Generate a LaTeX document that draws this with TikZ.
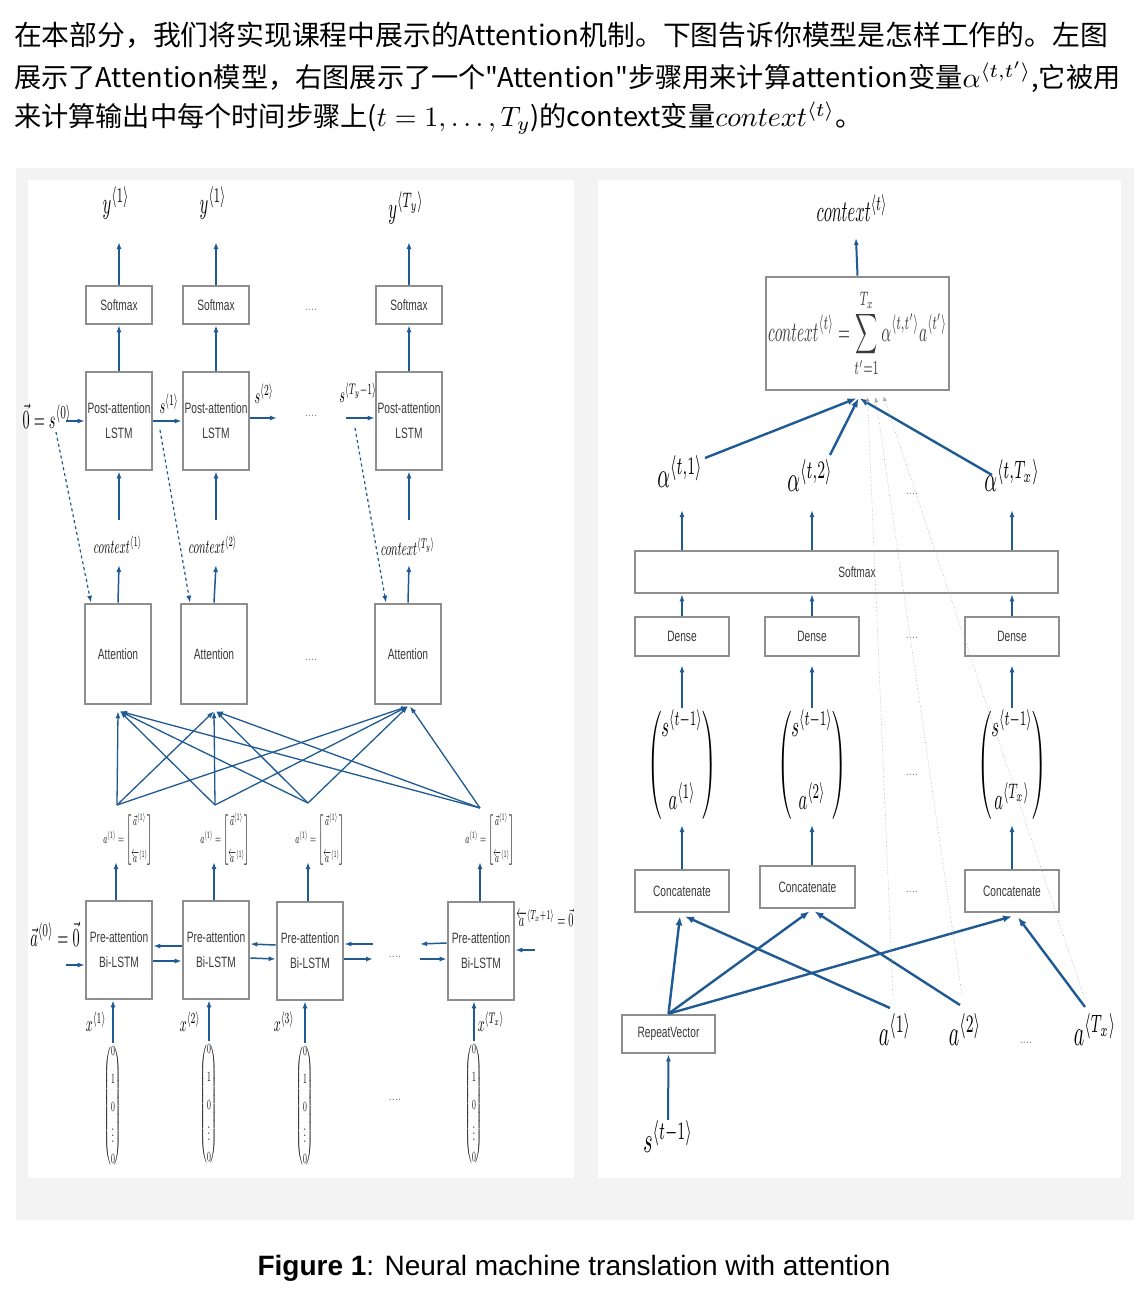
\documentclass[tikz,border=0pt]{standalone}
\usepackage{amsmath}
\usepackage{graphicx}
\usepackage{fontspec}
\setmainfont{Liberation Sans}
\newfontfamily\cjk{Noto Sans CJK SC}
\newfontfamily\boxfont[FakeStretch=0.68]{Liberation Sans}
\usetikzlibrary{arrows.meta,calc,positioning}

\definecolor{arrblue}{HTML}{1F5A92}
\definecolor{boxgray}{HTML}{8E8E8E}
\definecolor{panelgray}{HTML}{F3F3F3}
\definecolor{boxtext}{HTML}{3A3A3A}

% condensed math label, set at 10pt and scaled up to #1
\newcommand{\mathlab}[2]{{\fontsize{10}{12}\selectfont
  \pgfmathsetmacro\mlx{0.055*#1}\pgfmathsetmacro\mly{0.1*#1}%
  \scalebox{\mlx}[\mly]{$#2$}}}
\newcommand{\bigmath}[1]{{\fontsize{10}{12}\selectfont\scalebox{2.8}{$#1$}}}

\tikzset{
  blk/.style={rectangle, draw=boxgray, line width=2.6pt, fill=white, text=boxtext,
    align=center, inner sep=0pt, font=\boxfont\fontsize{15}{17}\selectfont},
  sbox/.style={blk, minimum width=66pt, minimum height=38pt},
  tbox/.style={blk, minimum width=66pt, minimum height=98pt, font=\boxfont\fontsize{15}{25}\selectfont},
  wbox/.style={blk, minimum width=94pt, minimum height=39pt},
  arr/.style={draw=arrblue, line width=1.5pt, -{Latex[length=7pt,width=5pt]}},
  thk/.style={draw=arrblue, line width=2.4pt, -{Latex[length=9pt,width=7pt]}},
  dsh/.style={arr, dashed, line width=1.2pt},
  gline/.style={draw=gray!70, dotted, line width=0.6pt, -{Latex[length=5pt,width=4pt]}},
  lab/.style={inner sep=1pt},
  dots/.style={font=\fontsize{11}{11}\selectfont, text=gray}
}

\begin{document}
\begin{tikzpicture}[x=1pt,y=-1pt]
\useasboundingbox (0,0) rectangle (1138,1294);

% intro text
\node[anchor=west, inner sep=0pt, font=\cjk\fontsize{27.8}{32}\selectfont] (line1) at (14,35)
  {在本部分，我们将实现课程中展示的Attention机制。下图告诉你模型是怎样工作的。左图};
\node[anchor=west, inner sep=0pt, font=\cjk\fontsize{27.2}{32}\selectfont] (line2) at (14,77)
  {展示了Attention模型，右图展示了一个"Attention"步骤用来计算attention变量\bigmath{\alpha^{\langle t,t'\rangle}},它被用};
\node[anchor=west, inner sep=0pt, font=\cjk\fontsize{27.2}{32}\selectfont] (line3) at (14,118)
  {来计算输出中每个时间步骤上(\bigmath{t = 1, \ldots, T_y})的context变量\bigmath{context^{\langle t\rangle}}。};

% panels
\fill[panelgray] (16,168) rectangle (1134,1220);
\fill[white] (28,180) rectangle (574,1178);
\fill[white] (598,180) rectangle (1121,1178);

% ---- left: attention model ----
\node[sbox] (lsm1) at (119,305) {Softmax};
\node[sbox] (lsm2) at (216,305) {Softmax};
\node[sbox] (lsm3) at (409,305) {Softmax};
\node[dots] (ldot1) at (311,310) {....};

\node[lab] (ly1) at (116,203) {\mathlab{30}{y^{\langle 1\rangle}}};
\node[lab] (ly2) at (213,203) {\mathlab{30}{y^{\langle 1\rangle}}};
\node[lab] (ly3) at (406,208) {\mathlab{30}{y^{\langle T_y\rangle}}};
\coordinate (oy1) at (119,242);
\coordinate (oy2) at (216,242);
\coordinate (oy3) at (409,242);
\draw[arr] (lsm1.north) -- (oy1);
\draw[arr] (lsm2.north) -- (oy2);
\draw[arr] (lsm3.north) -- (oy3);

\node[tbox] (post1) at (119,421) {Post-attention\\LSTM};
\node[tbox] (post2) at (216,421) {Post-attention\\LSTM};
\node[tbox] (post3) at (409,421) {Post-attention\\LSTM};
\node[dots] (ldot2) at (311,416) {....};
\draw[arr] (post1.north) -- (lsm1.south);
\draw[arr] (post2.north) -- (lsm2.south);
\draw[arr] (post3.north) -- (lsm3.south);

\node[lab] (s0) at (47,416) {\mathlab{26}{\vec{0}=s^{\langle 0\rangle}}};
\node[lab] (s1) at (169,404) {\mathlab{22}{s^{\langle 1\rangle}}};
\node[lab] (s2) at (264,394) {\mathlab{22}{s^{\langle 2\rangle}}};
\node[lab] (s3) at (358,393) {\mathlab{22}{s^{\langle T_y-1\rangle}}};
\coordinate (ins0) at (66,421);
\coordinate (outs2) at (277,418);
\coordinate (ins3) at (346,418);
\draw[arr] (ins0) -- (post1.west);
\draw[arr] (post1.east) -- (post2.west);
\draw[arr] ([yshift=3pt]post2.east) -- (outs2);
\draw[arr] (ins3) -- ([yshift=3pt]post3.west);

\node[lab] (lc1) at (118,545) {\mathlab{20}{context^{\langle 1\rangle}}};
\node[lab] (lc2) at (213,545) {\mathlab{20}{context^{\langle 2\rangle}}};
\node[lab] (lc3) at (408,547) {\mathlab{20}{context^{\langle T_y\rangle}}};
\coordinate (cb1) at (119,520);
\coordinate (cb2) at (216,520);
\coordinate (cb3) at (409,520);
\coordinate (ca1) at (119,565);
\coordinate (ca2) at (216,565);
\coordinate (ca3) at (409,565);
\draw[arr] (cb1) -- (post1.south);
\draw[arr] (cb2) -- (post2.south);
\draw[arr] (cb3) -- (post3.south);

\node[tbox, minimum height=100pt] (att1) at (118,654) {Attention};
\node[tbox, minimum height=100pt] (att2) at (214,654) {Attention};
\node[tbox, minimum height=100pt] (att3) at (408,654) {Attention};
\node[dots] (ldot3) at (311,660) {....};
\draw[arr] (att1.north) -- (ca1);
\draw[arr] (att2.north) -- (ca2);
\draw[arr] (att3.north) -- (ca3);

% dashed s -> attention
\coordinate (ds1) at (56,432);
\coordinate (ds2) at (160,430);
\coordinate (ds3) at (355,428);
\draw[dsh] (ds1) -- ([xshift=-27pt]att1.north);
\draw[dsh] (ds2) -- ([xshift=-24pt]att2.north);
\draw[dsh] (ds3) -- ([xshift=-22pt]att3.north);

% all a<t'> feed every attention
\coordinate (p1) at (117,805);
\coordinate (p2) at (215,805);
\coordinate (p3) at (308,803);
\coordinate (p4) at (480,808);
\draw[arr, line width=1.3pt] (p1) -- ([yshift=-6pt]att1.south);
\draw[arr, line width=1.3pt] (p1) -- ([yshift=-6pt]att2.south);
\draw[arr, line width=1.3pt] (p1) -- ([yshift=-1pt]att3.south);
\draw[arr, line width=1.3pt] (p2) -- ([xshift=2pt,yshift=-6pt]att1.south);
\draw[arr, line width=1.3pt] (p2) -- ([yshift=-6pt]att2.south);
\draw[arr, line width=1.3pt] (p2) -- ([yshift=-1pt]att3.south);
\draw[arr, line width=1.3pt] (p3) -- ([xshift=2pt,yshift=-6pt]att1.south);
\draw[arr, line width=1.3pt] (p3) -- ([xshift=2pt,yshift=-6pt]att2.south);
\draw[arr, line width=1.3pt] (p3) -- ([yshift=-1pt]att3.south);
\draw[arr, line width=1.3pt] (p4) -- ([xshift=2pt,yshift=-6pt]att1.south);
\draw[arr, line width=1.3pt] (p4) -- ([xshift=2pt,yshift=-6pt]att2.south);
\draw[arr, line width=1.3pt] (p4) -- ([xshift=2pt,yshift=-1pt]att3.south);

\node[lab] (la1) at (128,840) {\mathlab{14}{a^{\langle 1\rangle}=\begin{bmatrix}\vec{a}^{\langle 1\rangle}\\[14pt]\overleftarrow{a}^{\langle 1\rangle}\end{bmatrix}}};
\node[lab] (la2) at (225,840) {\mathlab{14}{a^{\langle 1\rangle}=\begin{bmatrix}\vec{a}^{\langle 1\rangle}\\[14pt]\overleftarrow{a}^{\langle 1\rangle}\end{bmatrix}}};
\node[lab] (la3) at (320,840) {\mathlab{14}{a^{\langle 1\rangle}=\begin{bmatrix}\vec{a}^{\langle 1\rangle}\\[14pt]\overleftarrow{a}^{\langle 1\rangle}\end{bmatrix}}};
\node[lab] (la4) at (490,840) {\mathlab{14}{a^{\langle 1\rangle}=\begin{bmatrix}\vec{a}^{\langle 1\rangle}\\[14pt]\overleftarrow{a}^{\langle 1\rangle}\end{bmatrix}}};

\node[tbox] (pre1) at (119,950) {Pre-attention\\Bi-LSTM};
\node[tbox] (pre2) at (216,950) {Pre-attention\\Bi-LSTM};
\node[tbox] (pre3) at (310,951) {Pre-attention\\Bi-LSTM};
\node[tbox] (pre4) at (481,951) {Pre-attention\\Bi-LSTM};
\node[dots] (ldot4) at (395,957) {....};
\coordinate (q1) at (116,862);
\coordinate (q2) at (214,862);
\coordinate (q3) at (308,862);
\coordinate (q4) at (480,862);
\draw[arr] (pre1.north -| q1) -- (q1);
\draw[arr] (pre2.north -| q2) -- (q2);
\draw[arr] (pre3.north -| q3) -- (q3);
\draw[arr] (pre4.north -| q4) -- (q4);

% forward and backward states
\node[lab] (af0) at (55,934) {\mathlab{26}{\vec{a}^{\langle 0\rangle}=\vec{0}}};
\node[lab] (ab0) at (545,918) {\mathlab{19}{\overleftarrow{a}^{\langle T_x+1\rangle}=\vec{0}}};
\coordinate (inf) at (66,965);
\coordinate (outf3) at (373,959);
\coordinate (inb3) at (373,944);
\coordinate (outb4) at (420,944);
\coordinate (inf4) at (420,959);
\coordinate (inb5) at (535,950);
\draw[arr] (inf) -- ([yshift=-15pt]pre1.west);
\draw[arr] ([yshift=4pt]pre2.west) -- ([yshift=4pt]pre1.east);
\draw[arr] ([yshift=-11pt]pre1.east) -- ([yshift=-11pt]pre2.west);
\draw[arr] ([yshift=6pt]pre3.west) -- ([yshift=6pt]pre2.east);
\draw[arr] ([yshift=-8pt]pre2.east) -- ([yshift=-8pt]pre3.west);
\draw[arr] (inb3) -- ([yshift=7pt]pre3.east);
\draw[arr] ([yshift=-8pt]pre3.east) -- (outf3);
\draw[arr] ([yshift=8pt]pre4.west) -- (outb4);
\draw[arr] (inf4) -- ([yshift=-8pt]pre4.west);
\draw[arr] (inb5) -- ([yshift=1pt]pre4.east);

\node[lab] (lx1) at (96,1022) {\mathlab{22}{x^{\langle 1\rangle}}};
\node[lab] (lx2) at (190,1022) {\mathlab{22}{x^{\langle 2\rangle}}};
\node[lab] (lx3) at (284,1022) {\mathlab{22}{x^{\langle 3\rangle}}};
\node[lab] (lx4) at (491,1022) {\mathlab{22}{x^{\langle T_x\rangle}}};

\node[lab] (oh1) at (113,1106) {\mathlab{14}{\begin{pmatrix}0\\[8pt]1\\[8pt]0\\[3pt]\vdots\\[3pt]0\end{pmatrix}}};
\node[lab] (oh2) at (209,1104) {\mathlab{14}{\begin{pmatrix}0\\[8pt]1\\[8pt]0\\[3pt]\vdots\\[3pt]0\end{pmatrix}}};
\node[lab] (oh3) at (305,1106) {\mathlab{14}{\begin{pmatrix}0\\[8pt]1\\[8pt]0\\[3pt]\vdots\\[3pt]0\end{pmatrix}}};
\node[lab] (oh4) at (474,1104) {\mathlab{14}{\begin{pmatrix}0\\[8pt]1\\[8pt]0\\[3pt]\vdots\\[3pt]0\end{pmatrix}}};
\node[dots] (ldot5) at (395,1100) {....};
\draw[arr] (oh1.north) -- (oh1.north |- pre1.south);
\draw[arr] (oh2.north) -- (oh2.north |- pre2.south);
\draw[arr] (oh3.north) -- (oh3.north |- pre3.south);
\draw[arr] (oh4.north) -- (oh4.north |- pre4.south);

% ---- right: one attention step ----
\node[lab] (rctx) at (852,208) {\mathlab{30}{context^{\langle t\rangle}}};
\coordinate (octx) at (856,238);
\node[blk, minimum width=183pt, minimum height=113pt] (sum) at (857.5,333.5)
  {\mathlab{28}{\displaystyle context^{\langle t\rangle}=\sum_{t'=1}^{T_x}\alpha^{\langle t,t'\rangle}a^{\langle t'\rangle}}};
\draw[arr, line width=2pt] (sum.north) -- (octx);

\node[lab] (al1) at (680,472) {\mathlab{36}{\alpha^{\langle t,1\rangle}}};
\node[lab] (al2) at (810,476) {\mathlab{36}{\alpha^{\langle t,2\rangle}}};
\node[lab] (al3) at (1012,476) {\mathlab{36}{\alpha^{\langle t,T_x\rangle}}};
\node[dots] (rdot1) at (912,494) {....};
\coordinate (sa1) at (705,458);
\coordinate (sa2) at (830,455);
\coordinate (sa3) at (992,475);
\draw[thk] (sa1) -- ([xshift=-1pt,yshift=-7pt]sum.south);
\draw[thk] (sa2) -- ([xshift=1pt,yshift=-7pt]sum.south);
\draw[thk] (sa3) -- ([xshift=2pt,yshift=-7pt]sum.south);

\node[blk, minimum width=423pt, minimum height=42pt] (rsm) at (846.5,572) {\hspace*{21pt}Softmax};
\coordinate (ta1) at (682,510);
\coordinate (ta2) at (812,510);
\coordinate (ta3) at (1012,510);
\draw[arr, line width=2pt] (rsm.north -| ta1) -- (ta1);
\draw[arr, line width=2pt] (rsm.north -| ta2) -- (ta2);
\draw[arr, line width=2pt] (rsm.north -| ta3) -- (ta3);

\node[wbox] (d1) at (682,636.5) {Dense};
\node[wbox] (d2) at (812,636.5) {Dense};
\node[wbox] (d3) at (1012,636.5) {Dense};
\node[dots] (rdot2) at (912,638) {....};
\draw[arr, line width=2pt] (d1.north) -- (d1.north |- rsm.south);
\draw[arr, line width=2pt] (d2.north) -- (d2.north |- rsm.south);
\draw[arr, line width=2pt] (d3.north) -- (d3.north |- rsm.south);

\node[lab] (v1) at (682,765) {\mathlab{30}{\begin{pmatrix}s^{\langle t-1\rangle}\\[12pt]a^{\langle 1\rangle}\end{pmatrix}}};
\node[lab] (v2) at (812,765) {\mathlab{30}{\begin{pmatrix}s^{\langle t-1\rangle}\\[12pt]a^{\langle 2\rangle}\end{pmatrix}}};
\node[lab] (v3) at (1012,765) {\mathlab{30}{\begin{pmatrix}s^{\langle t-1\rangle}\\[12pt]a^{\langle T_x\rangle}\end{pmatrix}}};
\node[dots] (rdot3) at (912,775) {....};
\coordinate (vt1) at (682,708);
\coordinate (vt2) at (812,708);
\coordinate (vt3) at (1012,708);
\draw[arr, line width=2pt, shorten >=8pt] (vt1) -- (d1.south);
\draw[arr, line width=2pt, shorten >=8pt] (vt2) -- (d2.south);
\draw[arr, line width=2pt, shorten >=8pt] (vt3) -- (d3.south);

\node[wbox, minimum height=42pt] (c1) at (682,891) {Concatenate};
\node[wbox, minimum height=42pt, minimum width=95pt] (c2) at (807.5,887) {Concatenate};
\node[wbox, minimum height=42pt] (c3) at (1012,891) {Concatenate};
\node[dots] (rdot4) at (912,892) {....};
\coordinate (vb1) at (682,825);
\coordinate (vb2) at (812,825);
\coordinate (vb3) at (1012,825);
\draw[arr, line width=2pt] (c1.north) -- (vb1);
\draw[arr, line width=2pt] (c2.north -| vb2) -- (vb2);
\draw[arr, line width=2pt] (c3.north) -- (vb3);

\node[wbox, minimum width=93pt, minimum height=38pt] (rv) at (668.5,1034) {RepeatVector};
\node[lab] (rs) at (668,1137) {\mathlab{36}{s^{\langle t-1\rangle}}};
\draw[arr, line width=2pt] (rs.north) -- (rv.south);

\node[lab] (ra1) at (895,1030) {\mathlab{36}{a^{\langle 1\rangle}}};
\node[lab] (ra2) at (965,1030) {\mathlab{36}{a^{\langle 2\rangle}}};
\node[lab] (ra3) at (1095,1030) {\mathlab{36}{a^{\langle T_x\rangle}}};
\node[dots] (rdot5) at (1026,1043) {....};

\coordinate (ta) at (890,1008);
\coordinate (tb) at (960,1005);
\coordinate (tc) at (1085,1007);
\draw[thk] (rv.north) -- ([xshift=-2pt,yshift=-3pt]c1.south);
\draw[thk] (rv.north) -- ([xshift=2pt,yshift=-2pt]c2.south);
\draw[thk] (rv.north) -- ([yshift=-3pt]c3.south);
\draw[thk] (ta) -- ([xshift=3pt,yshift=-3pt]c1.south);
\draw[thk] (tb) -- ([xshift=7pt,yshift=-2pt]c2.south);
\draw[thk] (tc) -- ([xshift=6pt,yshift=-4pt]c3.south);

% a<t'> also go straight into the sum
\coordinate (ga1) at (893,995);
\coordinate (ga2) at (962,995);
\coordinate (ga3) at (1085,1000);
\draw[gline] (ga1) -- ([xshift=10pt,yshift=-6pt]sum.south);
\draw[gline] (ga2) -- ([xshift=18pt,yshift=-6pt]sum.south);
\draw[gline] (ga3) -- ([xshift=26pt,yshift=-5pt]sum.south);

% caption
\node[font=\fontsize{28}{32}\selectfont] (cap) at (574,1268)
  {\textbf{Figure 1}: Neural machine translation with attention};
\end{tikzpicture}
\end{document}
